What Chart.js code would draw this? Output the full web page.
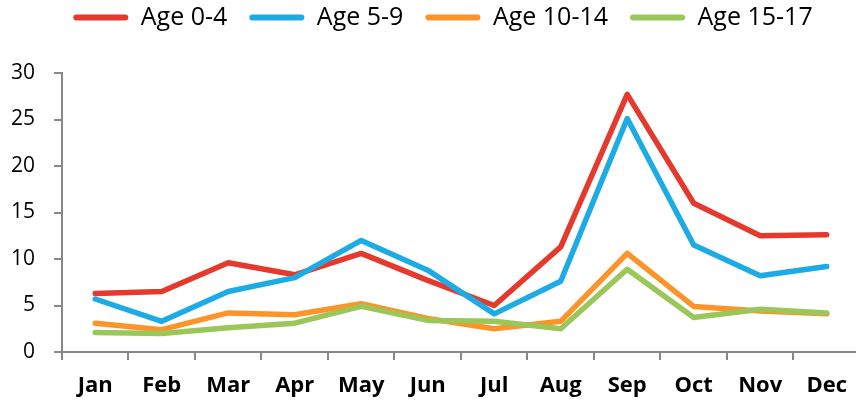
<!DOCTYPE html>
<html><head><meta charset="utf-8">
<script src="https://cdn.jsdelivr.net/npm/chart.js@4.4.1/dist/chart.umd.min.js"></script>
<style>html,body{margin:0;padding:0;background:#fff;overflow:hidden;width:856px;height:403px}canvas{display:block}</style>
</head><body>
<canvas id="c" width="860" height="403"></canvas>
<script>
const months = ["Jan","Feb","Mar","Apr","May","Jun","Jul","Aug","Sep","Oct","Nov","Dec"];
const age0_4   = [6.3, 6.5, 9.6, 8.3, 10.6, 7.7, 5.0, 11.3, 27.7, 16.0, 12.5, 12.6];
const age5_9   = [5.7, 3.3, 6.5, 8.0, 12.0, 8.8, 4.1, 7.6, 25.1, 11.5, 8.2, 9.2];
const age10_14 = [3.1, 2.4, 4.2, 4.0, 5.2, 3.6, 2.5, 3.3, 10.6, 4.9, 4.4, 4.1];
const age15_17 = [2.1, 2.0, 2.6, 3.1, 4.9, 3.4, 3.3, 2.5, 8.9, 3.7, 4.6, 4.2];
const yMin = 0, yMax = 30, yStep = 5;
const seriesNames = ["Age 0-4","Age 5-9","Age 10-14","Age 15-17"];
const seriesColors = ["#E5392E","#1DABE6","#FD9429","#9BC75A"];
const seriesData = [age0_4, age5_9, age10_14, age15_17];

const FONT = '"Open Sans", "Noto Sans", sans-serif';
const AXIS = '#888888';

const datasets = seriesData.map((d, i) => ({
  label: seriesNames[i],
  data: d,
  borderColor: seriesColors[i],
  backgroundColor: seriesColors[i],
  borderWidth: 5.5,
  pointRadius: 0,
  pointHoverRadius: 0,
  tension: 0,
  borderJoinStyle: 'round',
  borderCapStyle: 'round',
  order: seriesData.length - i
}));

const layoutFix = {
  id: 'layoutFix',
  beforeUpdate(chart) {
    const lg = chart.legend;
    if (lg && !lg._patched) {
      const orig = lg.fit;
      lg.fit = function () { orig.call(this); this.height = 73; };
      lg._patched = true;
    }
  },
  afterLayout(chart) {
    const lg = chart.legend;
    if (lg) {
      const pad = lg.options.labels.padding;
      lg.top = 5 - pad;
      lg.left += 13; lg.right += 13;
    }
  }
};

new Chart(document.getElementById('c'), {
  type: 'line',
  data: { labels: months, datasets },
  plugins: [layoutFix],
  options: {
    responsive: false,
    animation: false,
    events: [],
    layout: { padding: 0 },
    plugins: {
      tooltip: { enabled: false },
      legend: {
        position: 'top',
        align: 'center',
        labels: {
          boxWidth: 55,
          boxHeight: 6,
          useBorderRadius: true,
          borderRadius: 3,
          padding: 22,
          color: '#000',
          font: { family: FONT, size: 25 },
          sort: (a, b) => a.datasetIndex - b.datasetIndex,
          generateLabels(chart) {
            const items = Chart.defaults.plugins.legend.labels.generateLabels(chart);
            items.forEach(it => { it.lineWidth = 0; });
            return items;
          }
        }
      }
    },
    scales: {
      x: {
        type: 'category',
        offset: true,
        grid: { display: true, drawOnChartArea: false, drawTicks: true, tickLength: 8, color: AXIS, lineWidth: 2, offset: true },
        border: { display: true, color: AXIS, width: 2 },
        ticks: { color: '#000', font: { family: FONT, size: 22, weight: 'bold' }, padding: 13, maxRotation: 0, autoSkip: false },
        afterFit(s) { s.height = 51; }
      },
      y: {
        min: yMin, max: yMax,
        grid: { display: true, drawOnChartArea: false, drawTicks: true, tickLength: 8, color: AXIS, lineWidth: 2 },
        border: { display: true, color: AXIS, width: 2 },
        ticks: { stepSize: yStep, color: '#000', font: { family: FONT, size: 21 }, padding: 19 },
        afterFit(s) { s.width = 62; }
      }
    }
  }
});
</script>
</body></html>
